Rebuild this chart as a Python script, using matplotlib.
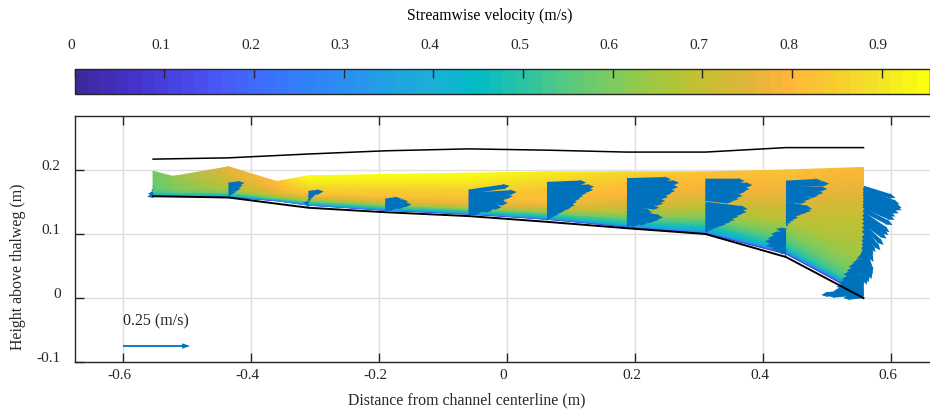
import matplotlib
matplotlib.use('Agg')
import matplotlib.pyplot as plt
from matplotlib.colors import LinearSegmentedColormap
from matplotlib.transforms import ScaledTranslation
import numpy as np

plt.rcParams['font.family'] = ['Liberation Serif', 'DejaVu Serif']

# Channel cross section (m)
station_x = [-0.553, -0.435, -0.31, -0.19, -0.06, 0.0625, 0.1875, 0.31, 0.436, 0.557]
bed_y = [0.159, 0.157, 0.141, 0.134, 0.128, 0.119, 0.109, 0.100, 0.064, 0.0]
surface_y = [0.217, 0.219, 0.225, 0.230, 0.233, 0.231, 0.228, 0.228, 0.235, 0.235]

# Velocity field, one column per position
field_x = [-0.553, -0.522, -0.435, -0.36, -0.31, -0.19, -0.06, 0.0625, 0.1875, 0.31, 0.436, 0.557]
field_bottom = [0.160, 0.160, 0.158, 0.152, 0.145, 0.137, 0.131, 0.123, 0.111, 0.101, 0.069, 0.004]
field_top = [0.198, 0.190, 0.205, 0.182, 0.191, 0.193, 0.195, 0.197, 0.197, 0.197, 0.200, 0.204]
depth_frac = [0, 0.015, 0.04, 0.08, 0.15, 0.25, 0.4, 0.6, 0.8, 1]
field_speed = [
    [0.10, 0.25, 0.40, 0.48, 0.53, 0.56, 0.57, 0.58, 0.58, 0.58],
    [0.10, 0.25, 0.40, 0.48, 0.54, 0.57, 0.60, 0.61, 0.62, 0.62],
    [0.10, 0.25, 0.40, 0.50, 0.60, 0.66, 0.70, 0.73, 0.75, 0.76],
    [0.10, 0.25, 0.42, 0.52, 0.60, 0.68, 0.76, 0.79, 0.80, 0.81],
    [0.15, 0.30, 0.42, 0.50, 0.62, 0.74, 0.82, 0.87, 0.92, 0.95],
    [0.10, 0.30, 0.42, 0.52, 0.64, 0.76, 0.82, 0.86, 0.92, 0.95],
    [0.10, 0.30, 0.42, 0.52, 0.66, 0.77, 0.82, 0.86, 0.91, 0.95],
    [0.10, 0.30, 0.42, 0.50, 0.62, 0.74, 0.81, 0.83, 0.87, 0.92],
    [0.10, 0.30, 0.42, 0.48, 0.56, 0.66, 0.74, 0.80, 0.83, 0.87],
    [0.10, 0.25, 0.38, 0.44, 0.52, 0.60, 0.68, 0.75, 0.80, 0.82],
    [0.10, 0.25, 0.42, 0.48, 0.55, 0.61, 0.68, 0.74, 0.79, 0.82],
    [0.10, 0.30, 0.48, 0.56, 0.60, 0.63, 0.66, 0.70, 0.76, 0.80],
]

# Velocity vectors at each station: height, u, w
st1_h = [0.173, 0.169, 0.164, 0.160]
st1_u = [0.004, -0.008, -0.019, -0.022]
st1_w = [0.004, 0.0, -0.004, -0.004]
st2_h = [0.177, 0.173, 0.169, 0.164, 0.160, 0.156]
st2_u = [0.059, 0.052, 0.045, 0.026, 0.007, 0.004]
st2_w = [0.007, 0.006, 0.004, 0.003, 0.001, 0.0]
st3_h = [0.164, 0.160, 0.156, 0.152, 0.148, 0.144]
st3_u = [0.056, 0.030, 0.020, 0.008, -0.022, -0.008]
st3_w = [0.006, 0.006, 0.008, 0.012, 0.002, -0.004]
st4_h = [0.152, 0.149, 0.146, 0.143, 0.140, 0.137]
st4_u = [0.060, 0.085, 0.097, 0.075, 0.040, 0.007]
st4_w = [0.008, 0.005, 0.0, 0.0, 0.0, 0.0]
st5_h = [0.166, 0.161, 0.156, 0.152, 0.147, 0.142, 0.1375, 0.133, 0.128]
st5_u = [0.153, 0.179, 0.164, 0.138, 0.146, 0.123, 0.090, 0.045, 0.007]
st5_w = [0.022, 0.011, 0.007, 0.004, 0.004, 0.0, 0.0, 0.0, 0.0]
st6_h = [0.178, 0.173, 0.169, 0.164, 0.159, 0.155, 0.150, 0.145, 0.141, 0.136, 0.131, 0.127, 0.122]
st6_u = [0.146, 0.175, 0.172, 0.149, 0.134, 0.123, 0.112, 0.104, 0.090, 0.067, 0.045, 0.026, 0.007]
st6_w = [0.006, 0.002, 0.0, 0.0, 0.0, 0.0, 0.0, 0.0, 0.0, 0.0, 0.0, 0.0, 0.0]
st7_h = [0.184, 0.180, 0.175, 0.170, 0.166, 0.161, 0.156, 0.152, 0.147, 0.142, 0.136, 0.131, 0.127, 0.122, 0.117, 0.1125]
st7_u = [0.164, 0.194, 0.190, 0.179, 0.164, 0.153, 0.142, 0.134, 0.119, 0.093, 0.134, 0.119, 0.101, 0.075, 0.045, 0.011]
st7_w = [0.004, 0.0, -0.004, -0.007, -0.007, -0.007, -0.011, -0.011, -0.015, -0.019, -0.026, -0.022, -0.019, -0.015, -0.007, 0.0]
st8_h = [0.183, 0.178, 0.173, 0.169, 0.164, 0.159, 0.155, 0.147, 0.142, 0.1375, 0.133, 0.128, 0.123, 0.119, 0.114, 0.109, 0.105]
st8_u = [0.146, 0.175, 0.164, 0.149, 0.138, 0.123, 0.101, 0.157, 0.153, 0.138, 0.123, 0.108, 0.093, 0.075, 0.052, 0.030, 0.011]
st8_w = [0.0, -0.004, -0.007, -0.007, -0.011, -0.011, -0.011, -0.019, -0.019, -0.015, -0.015, -0.015, -0.011, -0.011, -0.007, -0.004, -0.004]
st9_h = [0.180, 0.177, 0.172, 0.167, 0.1625, 0.158, 0.153, 0.147, 0.142, 0.1375, 0.133, 0.128, 0.123, 0.119, 0.114, 0.109,
         0.105, 0.100, 0.095, 0.091, 0.086, 0.081, 0.077, 0.072, 0.067]
st9_u = [0.134, 0.160, 0.153, 0.138, 0.119, 0.093, 0.075, 0.097, 0.093, 0.075, 0.056, 0.045, 0.030, 0.019, 0.011, 0.004,
         -0.037, -0.056, -0.067, -0.078, -0.075, -0.056, -0.041, -0.022, -0.007]
st9_w = [0.007, 0.004, -0.004, -0.007, -0.007, -0.007, -0.007, -0.019, -0.015, -0.011, -0.007, -0.007, -0.004, -0.004, 0.0, 0.0,
         0.007, 0.0, -0.004, -0.007, -0.011, -0.011, -0.011, -0.007, -0.004]
st10_h = [0.172, 0.167, 0.1625, 0.158, 0.153, 0.148, 0.144, 0.1375, 0.131, 0.125, 0.119, 0.1125, 0.106, 0.098, 0.092, 0.086,
          0.080, 0.073, 0.067, 0.059, 0.052, 0.044,
          0.072, 0.066, 0.059, 0.053, 0.047, 0.041, 0.034, 0.028, 0.022, 0.017, 0.0125, 0.008, 0.003]
st10_u = [0.119, 0.134, 0.142, 0.142, 0.131, 0.119, 0.116, 0.108, 0.097, 0.093, 0.086, 0.075, 0.063, 0.045, 0.037, 0.037,
          0.034, 0.030, 0.022, 0.019, 0.011, 0.0,
          -0.011, -0.026, -0.041, -0.056, -0.063, -0.075, -0.082, -0.093, -0.101, -0.112, -0.157, -0.131, -0.075]
st10_w = [-0.037, -0.049, -0.052, -0.049, -0.049, -0.049, -0.052, -0.056, -0.067, -0.063, -0.063, -0.071, -0.075, -0.063, -0.060, -0.071,
          -0.101, -0.104, -0.082, -0.082, -0.075, -0.056,
          -0.011, -0.011, -0.011, -0.011, -0.011, -0.011, -0.011, -0.011, -0.011, -0.015, -0.019, -0.011, -0.007]
all_h = [st1_h, st2_h, st3_h, st4_h, st5_h, st6_h, st7_h, st8_h, st9_h, st10_h]
all_u = [st1_u, st2_u, st3_u, st4_u, st5_u, st6_u, st7_u, st8_u, st9_u, st10_u]
all_w = [st1_w, st2_w, st3_w, st4_w, st5_w, st6_w, st7_w, st8_w, st9_w, st10_w]

key_x = -0.6
key_y = -0.075
key_speed = 0.25

x_ticks = [-0.6, -0.4, -0.2, 0, 0.2, 0.4, 0.6]
x_labels = ['-0.6', '-0.4', '-0.2', '0', '0.2', '0.4', '0.6']
y_ticks = [-0.1, 0, 0.1, 0.2]
y_labels = ['-0.1', '0', '0.1', '0.2']
cbar_ticks = [0, 0.1, 0.2, 0.3, 0.4, 0.5, 0.6, 0.7, 0.8, 0.9]
cbar_labels = ['0', '0.1', '0.2', '0.3', '0.4', '0.5', '0.6', '0.7', '0.8', '0.9']

# Colormap
vmax = 0.954
cmap_v = [0, 0.05, 0.1, 0.15, 0.2, 0.25, 0.3, 0.35, 0.4, 0.45, 0.5, 0.55, 0.6, 0.65, 0.7, 0.75, 0.8, 0.85, 0.9, 0.954]
cmap_c = ['#3D2A9E', '#4430C4', '#4840E0', '#4A55F5', '#3F6CFF', '#3380F8', '#2B90F2', '#20A2E2', '#1BB0D6', '#00BBC5',
          '#2BC3A5', '#55C880', '#7CCB5F', '#A2C840', '#C3C030', '#DDB53A', '#FFB53A', '#F8CB30', '#F2E228', '#FBFE10']
cmap = LinearSegmentedColormap.from_list('flow', [(v / vmax, c) for v, c in zip(cmap_v, cmap_c)], N=64)

W, H = 930, 412
fig = plt.figure(figsize=(W / 100, H / 100), dpi=100)
ax = fig.add_axes([74.7 / W, (H - 362) / H, (W - 74.7) / W, 246.5 / H])
cax = fig.add_axes([74.7 / W, (H - 93.5) / H, (W - 74.7) / W, 24.5 / H])

# Filled velocity field
frac = np.array(depth_frac)
xx = np.array(field_x)[:, None] * np.ones((1, len(frac)))
yy = np.array(field_bottom)[:, None] + (np.array(field_top) - np.array(field_bottom))[:, None] * frac[None, :]
mesh = ax.pcolormesh(xx, yy, np.array(field_speed), shading='gouraud', cmap=cmap, vmin=0, vmax=vmax, zorder=2)

# Velocity vectors
for sx, h, u, w in zip(station_x, all_h, all_u, all_w):
    ax.quiver(np.full(len(h), sx), h, u, w, angles='xy', scale_units='xy', scale=1 / 0.42, units='dots', width=4.4,
              headwidth=1.3, headlength=1.5, headaxislength=1.5, minlength=0, color='#0072BD', linewidth=0, zorder=3)

ax.plot(station_x, bed_y, color='black', lw=1.4, zorder=4)
ax.plot(station_x, surface_y, color='black', lw=1.1, zorder=4)

# Scale arrow
ax.quiver([key_x], [key_y], [key_speed], [0], angles='xy', scale_units='xy', scale=1 / 0.42, units='dots', width=1.8,
          headwidth=3, headlength=4.5, headaxislength=4.5, color='#0072BD', zorder=3)
ax.text(-0.6, -0.036, '0.25 (m/s)', fontsize=11.5, color='#262626', ha='left', va='center')

ax.set_xlim((74.7 - 507) / 640, (930 - 507) / 640)
ax.set_ylim(-0.1, (298 - 115.5) / 640)
ax.set_xticks(x_ticks)
ax.set_xticklabels(x_labels)
ax.set_yticks(y_ticks)
ax.set_yticklabels(y_labels)
ax.grid(True, color='#dedede', lw=1)
ax.set_axisbelow(True)
ax.tick_params(direction='in', length=6.5, width=1, top=True, right=False, labelsize=11, labelcolor='#262626', color='#262626', pad=5)
ax.tick_params(axis='y', pad=10)
ax.spines['right'].set_visible(False)
for s in ['left', 'bottom', 'top']:
    ax.spines[s].set_color('#262626')
    ax.spines[s].set_linewidth(1)

# Colour bar
cb = fig.colorbar(mesh, cax=cax, orientation='horizontal')
cb.set_ticks(cbar_ticks)
cb.set_ticklabels(cbar_labels)
cax.xaxis.set_ticks_position('top')
cax.tick_params(direction='in', length=6.5, width=1, labelsize=11, labelcolor='#262626', color='#262626', pad=12)
cb.outline.set_edgecolor('#262626')
cb.outline.set_linewidth(1)

# Tick labels sit a little off their ticks in the original
for lbl in ax.get_xticklabels() + cax.get_xticklabels():
    lbl.set_transform(lbl.get_transform() + ScaledTranslation(-0.035, 0, fig.dpi_scale_trans))
for lbl in ax.get_yticklabels():
    lbl.set_transform(lbl.get_transform() + ScaledTranslation(0, 0.05, fig.dpi_scale_trans))

fig.text(489.5 / W, 1 - 16 / H, 'Streamwise velocity (m/s)', fontsize=11.3, color='black', ha='center', va='center')
fig.text(467 / W, 1 - 400 / H, 'Distance from channel centerline (m)', fontsize=11.4, color='#262626', ha='center', va='center')
fig.text(18 / W, 1 - 267 / H, 'Height above thalweg (m)', fontsize=11.4, color='#262626', ha='center', va='center', rotation=90)

plt.savefig('out.png', dpi=100)
